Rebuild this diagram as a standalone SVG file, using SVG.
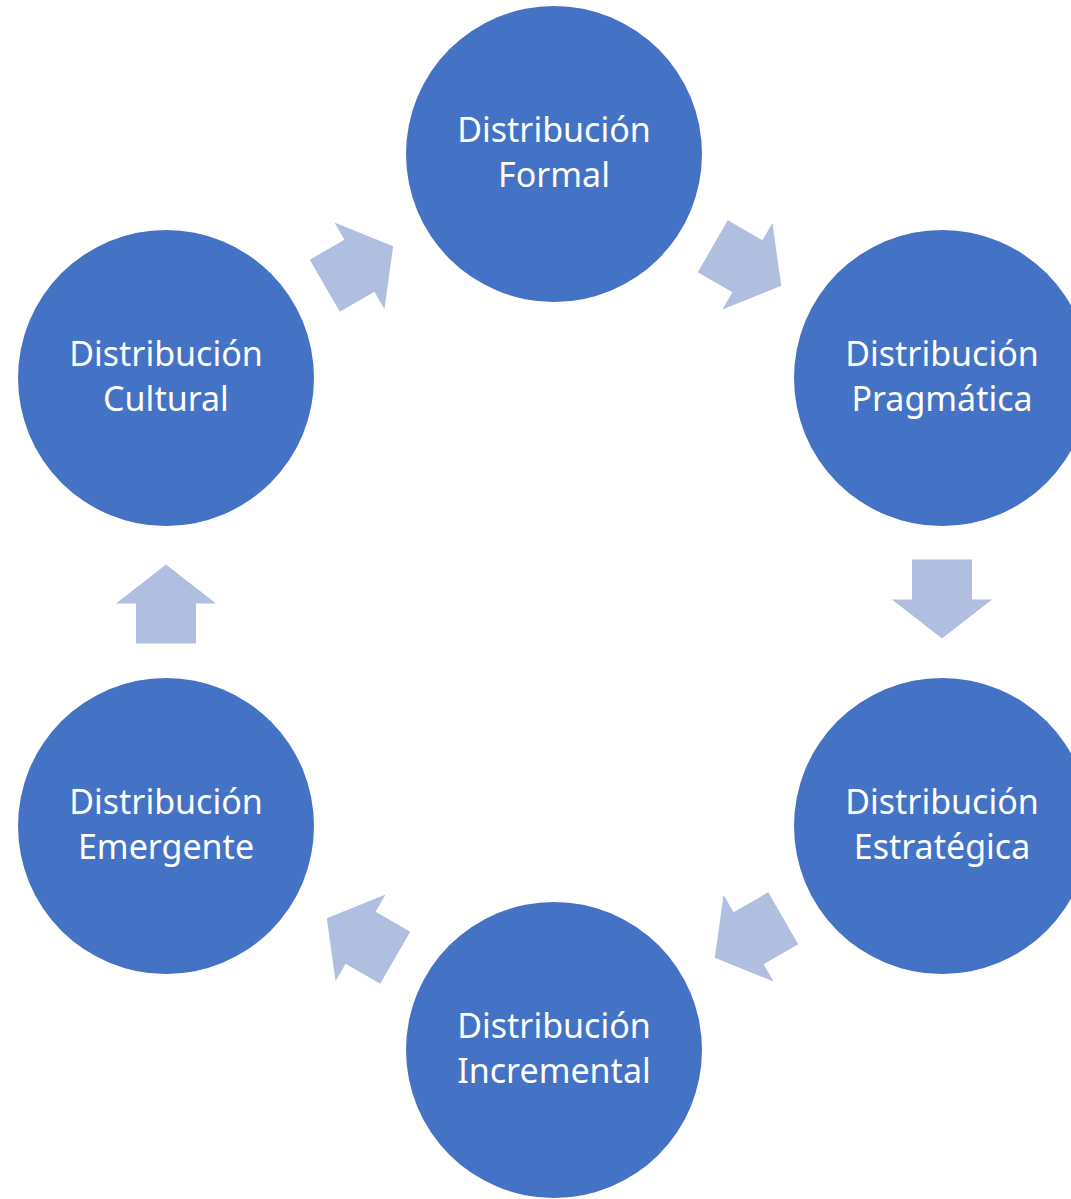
<svg xmlns="http://www.w3.org/2000/svg" width="1071" height="1199" viewBox="0 0 1071 1199">
<style>
.node circle{fill:#4472C4;}
.node text{fill:#FFFFFF;font-family:"Noto Sans","Open Sans","Liberation Sans",sans-serif;font-size:34px;text-anchor:middle;}
.arrow{fill:#B0BEDF;}
</style>
<defs>
<path id="arr" d="M-39.5,-30 L0.5,-30 L0.5,-50 L39.5,0 L0.5,50 L0.5,30 L-39.5,30 Z"/>
</defs>
<rect width="1071" height="1199" fill="#FFFFFF"/>
<g id="connectors">
<use href="#arr" class="arrow" transform="translate(359,266) rotate(-30)"/>
<use href="#arr" class="arrow" transform="translate(747,266) rotate(30)"/>
<use href="#arr" class="arrow" transform="translate(942,599) rotate(90)"/>
<use href="#arr" class="arrow" transform="translate(749,938) rotate(150)"/>
<use href="#arr" class="arrow" transform="translate(361,938) rotate(210)"/>
<use href="#arr" class="arrow" transform="translate(166,604) rotate(-90)"/>
</g>
<g id="formal" class="node"><circle cx="554" cy="154" r="148"/><text x="554" y="142">Distribución</text><text x="554" y="187">Formal</text></g>
<g id="pragmatica" class="node"><circle cx="942" cy="378" r="148"/><text x="942" y="366">Distribución</text><text x="942" y="411">Pragmática</text></g>
<g id="estrategica" class="node"><circle cx="942" cy="826" r="148"/><text x="942" y="814">Distribución</text><text x="942" y="859">Estratégica</text></g>
<g id="incremental" class="node"><circle cx="554" cy="1050" r="148"/><text x="554" y="1038">Distribución</text><text x="554" y="1083">Incremental</text></g>
<g id="emergente" class="node"><circle cx="166" cy="826" r="148"/><text x="166" y="814">Distribución</text><text x="166" y="859">Emergente</text></g>
<g id="cultural" class="node"><circle cx="166" cy="378" r="148"/><text x="166" y="366">Distribución</text><text x="166" y="411">Cultural</text></g>
</svg>
